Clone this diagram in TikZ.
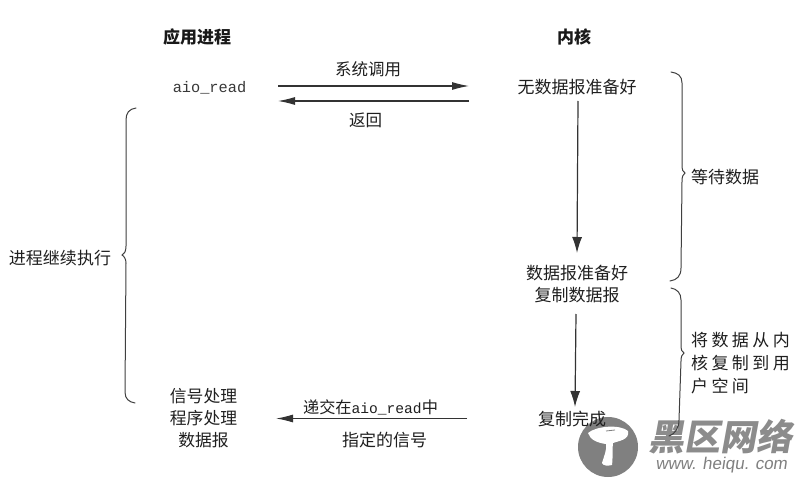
\documentclass[tikz,border=0pt]{standalone}
\usepackage{fontspec}
\newfontfamily\cjk{Noto Sans CJK SC}
\newfontfamily\cjkw[LetterSpace=20]{Noto Sans CJK SC}
\newfontfamily\monof{Liberation Mono}
\newfontfamily\sansf{Liberation Sans}
\usetikzlibrary{arrows.meta}
\tikzset{
  x=1pt,y=-1pt,
  lbl/.style={font=\cjk\fontsize{17}{22}\selectfont,text=black!88,align=center,inner sep=0pt},
  hdr/.style={font=\cjk\bfseries\fontsize{17}{18}\selectfont,text=black!90,inner sep=0pt},
  conn/.style={draw=black!80,line width=1.2pt,-{Latex[length=16pt,width=10pt]}},
  hconn/.style={draw=black!80,line width=1.1pt,-{Latex[length=17pt,width=8pt]}},
  brc/.style={draw=black!75,line width=1pt,line cap=round,fill=none},
  wm/.style={font=\cjk\bfseries\fontsize{36}{36}\selectfont,text=black!45,inner sep=0pt,xslant=0.18},
}
\begin{document}
\begin{tikzpicture}
\useasboundingbox (0,0) rectangle (810,481);
\fill[white] (0,0) rectangle (810,481);
% watermark
\fill[black!50] (608,447) circle (30);
\fill[white] (588,433) .. controls (596,426) and (620,424) .. (628,431) .. controls (630,440) and (618,441) .. (613,443)
  .. controls (612,452) and (613,460) .. (612,465) .. controls (608,466) and (603,466) .. (602,463)
  .. controls (604,456) and (607,450) .. (606,444) .. controls (598,443) and (590,440) .. (588,433) -- cycle;
\draw[black!50,line width=.8pt] (606,431) -- (615,430);
\node[wm] (wm1) at (723,437) {黑区网络};
\node[font=\sansf\fontsize{17}{17}\selectfont,text=black!50,inner sep=0pt,xslant=0.15] (wm2) at (722,465) {www. heiqu. com};
% texts
\node[hdr] (app) at (197,37) {应用进程};
\node[hdr] (ker) at (574,37) {内核};
\node[inner sep=0pt,text=black!78,font=\monof\fontsize{15.3}{15.3}\selectfont] (aio) at (209.5,88) {aio\_read};
\node[lbl] (nodata) at (577,87) {无数据报准备好};
\node[lbl] (ready) at (577,284) {数据报准备好\\复制数据报};
\node[lbl] (done) at (572,419) {复制完成};
\node[lbl,font=\cjk\fontsize{16.8}{22}\selectfont] (sig) at (203.5,418) {信号处理\\程序处理\\数据报};
\node[lbl] (wait) at (725,177) {等待数据};
\node[font=\cjkw\fontsize{17}{23}\selectfont,text=black!88,align=left,inner sep=0pt,anchor=west] (copy) at (691,363) {将数据从内\\核复制到用\\户空间};
\node[lbl] (cont) at (60,258) {进程继续执行};
\node[lbl,font=\cjk\fontsize{16.5}{20}\selectfont] (sys) at (368,69) {系统调用};
\node[lbl,font=\cjk\fontsize{16.5}{20}\selectfont] (ret) at (365.5,120) {返回};
\node[lbl,font=\cjk\fontsize{16.2}{20}\selectfont] (deliver) at (370.5,407) {递交在{\monof\fontsize{14.6}{14.6}\selectfont aio\_read}中};
\node[lbl] (spec) at (384.5,440) {指定的信号};
% connectors
\coordinate (s1) at (278,86);
\coordinate (e1) at (469,86);
\coordinate (s2) at (469,101);
\coordinate (e2) at (278,101);
\coordinate (s3) at (467,418.5);
\coordinate (e3) at (276,418.5);
\draw[hconn] (s1) -- (e1);
\draw[hconn] (s2) -- (e2);
\draw[hconn] (s3) -- (e3);
\coordinate (a1) at (578,101);
\coordinate (a2) at (577,253);
\coordinate (b1) at (576,314);
\coordinate (b2) at (575,407);
\draw[conn] (a1) -- (a2);
\draw[conn] (b1) -- (b2);
% left brace
\draw[brc] (136,108) .. controls (129,109) and (126,113) .. (126,120) -- (126,246)
  .. controls (126,252) and (124,254) .. (122,255) .. controls (124,256) and (126,259) .. (126,263)
  -- (125,392) .. controls (125,399) and (129,402) .. (135,403);
% right brace 1
\draw[brc] (671,72) .. controls (678,73) and (682,76) .. (682,83) -- (682,165)
  .. controls (682,170) and (683,172) .. (685,173) .. controls (683,174) and (682,177) .. (682,181)
  -- (681,268) .. controls (681,276) and (677,280) .. (670,281);
% right brace 2
\draw[brc] (671,288) .. controls (677,289) and (681,293) .. (681,300) -- (681,345)
  .. controls (681,350) and (682,352) .. (684,353) .. controls (682,354) and (681,357) .. (681,361)
  -- (679,420) .. controls (679,428) and (675,434) .. (669,436);
\end{tikzpicture}
\end{document}
